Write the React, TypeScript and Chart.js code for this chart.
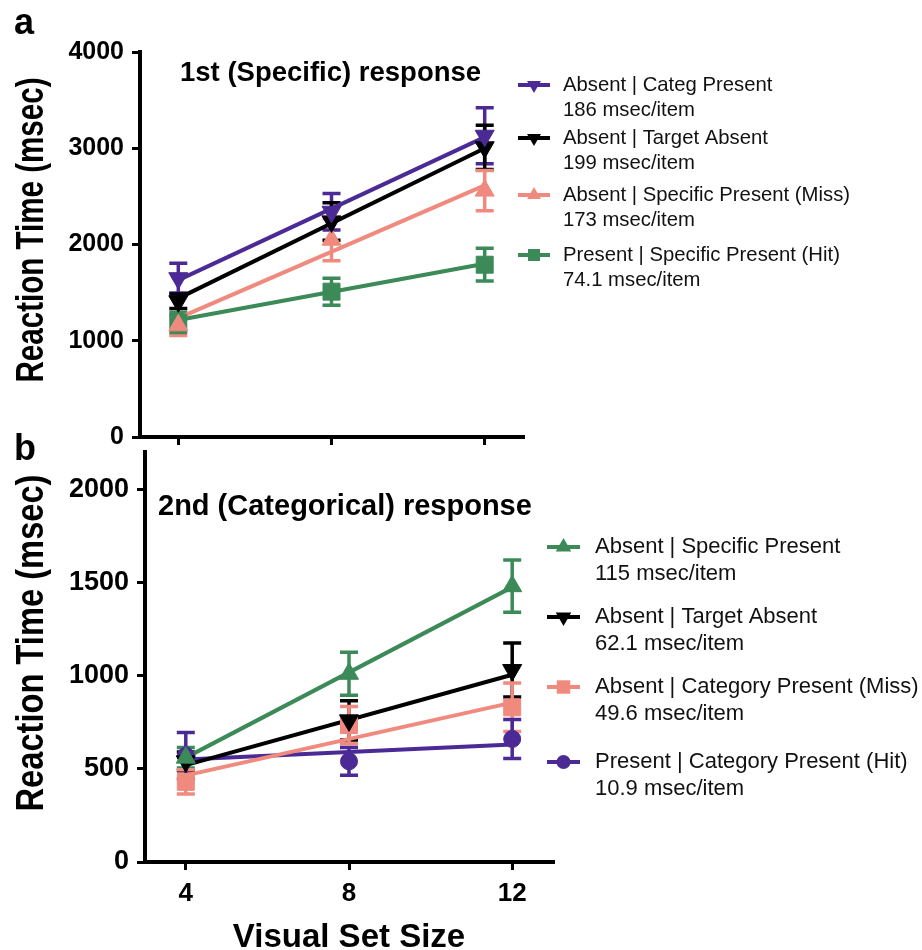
import React, { useEffect, useRef } from 'react';
import { Chart, registerables } from 'chart.js';

Chart.register(...registerables);

// ---------- data ----------
const SET_SIZES = [4, 8, 12];
const FIT_X = [4, 12];
const A_Y_TICKS = [0, 1000, 2000, 3000, 4000];
const B_Y_TICKS = [0, 500, 1000, 1500, 2000];

// Panel a: 1st (Specific) response
const A_NAMES = [
  'Absent | Categ Present',
  'Absent | Target Absent',
  'Absent | Specific Present (Miss)',
  'Present | Specific Present (Hit)',
];
const A_SLOPES = ['186 msec/item', '199 msec/item', '173 msec/item', '74.1 msec/item'];
const A_CATEG_MEAN = [1650, 2340, 3130];
const A_CATEG_ERR = [155, 190, 290];
const A_CATEG_FIT = [1630, 3115];
const A_TABSENT_MEAN = [1410, 2240, 3010];
const A_TABSENT_ERR = [75, 195, 230];
const A_TABSENT_FIT = [1440, 3000];
const A_MISS_MEAN = [1160, 2050, 2560];
const A_MISS_ERR = [105, 220, 210];
const A_MISS_FIT = [1235, 2615];
const A_HIT_MEAN = [1190, 1510, 1790];
const A_HIT_ERR = [105, 140, 170];
const A_HIT_FIT = [1215, 1800];

// Panel b: 2nd (Categorical) response
const B_NAMES = [
  'Absent | Specific Present',
  'Absent | Target Absent',
  'Absent | Category Present (Miss)',
  'Present | Category Present (Hit)',
];
const B_SLOPES = ['115 msec/item', '62.1 msec/item', '49.6 msec/item', '10.9 msec/item'];
const B_SPEC_MEAN = [560, 1010, 1480];
const B_SPEC_ERR = [55, 115, 140];
const B_SPEC_FIT = [560, 1475];
const B_TABSENT_MEAN = [540, 760, 1030];
const B_TABSENT_ERR = [50, 105, 145];
const B_TABSENT_FIT = [520, 1005];
const B_MISS_MEAN = [430, 735, 830];
const B_MISS_ERR = [65, 100, 130];
const B_MISS_FIT = [465, 855];
const B_HIT_MEAN = [570, 540, 660];
const B_HIT_ERR = [125, 75, 105];
const B_HIT_FIT = [550, 630];

// ---------- styles ----------
const PURPLE = '#4b2a96';
const BLACK = '#000000';
const SALMON = '#f08a7e';
const GREEN = '#3b8a58';
const FONT = '"Liberation Sans", Arial, Helvetica, sans-serif';
const W = 922;

type Series = {
  name: string;
  slope: string;
  mean: number[];
  err: number[];
  fit: number[];
  color: string;
  style: string;
  rotation: number;
  radius: number;
  legendRadius: number;
};

type Panel = {
  top: number;
  height: number;
  area: { left: number; right: number; top: number; bottom: number };
  yMax: number;
  yTicks: number[];
  yTickSize: number;
  showXLabels: boolean;
  series: Series[];
  letter: string;
  letterPos: [number, number, number];
  title: string;
  titlePos: [number, number, number];
  yTitle: { x: number; cy: number; len: number };
  legend: { x0: number; x1: number; tx: number; ys: number[]; gap: number; size: number };
  xTitle?: { cx: number; y: number; size: number };
};

const mk = (
  name: string, slope: string, mean: number[], err: number[], fit: number[],
  color: string, style: string, rotation: number, radius: number, legendRadius: number
): Series => ({ name, slope, mean, err, fit, color, style, rotation, radius, legendRadius });

const PANEL_A: Panel = {
  top: 0,
  height: 480,
  area: { left: 140, right: 523, top: 52, bottom: 437 },
  yMax: 4000,
  yTicks: A_Y_TICKS,
  yTickSize: 25,
  showXLabels: false,
  series: [
    mk(A_NAMES[0], A_SLOPES[0], A_CATEG_MEAN, A_CATEG_ERR, A_CATEG_FIT, PURPLE, 'triangle', 180, 11, 8),
    mk(A_NAMES[1], A_SLOPES[1], A_TABSENT_MEAN, A_TABSENT_ERR, A_TABSENT_FIT, BLACK, 'triangle', 180, 11, 8),
    mk(A_NAMES[2], A_SLOPES[2], A_MISS_MEAN, A_MISS_ERR, A_MISS_FIT, SALMON, 'triangle', 0, 11, 8),
    mk(A_NAMES[3], A_SLOPES[3], A_HIT_MEAN, A_HIT_ERR, A_HIT_FIT, GREEN, 'rect', 0, 12, 8.5),
  ],
  letter: 'a',
  letterPos: [14, 34, 36],
  title: '1st (Specific) response',
  titlePos: [180, 73, 27.5],
  yTitle: { x: 43, cy: 230, len: 305 },
  legend: { x0: 518, x1: 550, tx: 563, ys: [85, 138, 195, 255], gap: 25, size: 20.3 },
};

const PANEL_B: Panel = {
  top: 420,
  height: 530,
  area: { left: 145, right: 553, top: 32, bottom: 442 },
  yMax: 2200,
  yTicks: B_Y_TICKS,
  yTickSize: 27,
  showXLabels: true,
  series: [
    mk(B_NAMES[0], B_SLOPES[0], B_SPEC_MEAN, B_SPEC_ERR, B_SPEC_FIT, GREEN, 'triangle', 0, 11, 9),
    mk(B_NAMES[1], B_SLOPES[1], B_TABSENT_MEAN, B_TABSENT_ERR, B_TABSENT_FIT, BLACK, 'triangle', 180, 11, 9),
    mk(B_NAMES[2], B_SLOPES[2], B_MISS_MEAN, B_MISS_ERR, B_MISS_FIT, SALMON, 'rect', 0, 12, 9.5),
    mk(B_NAMES[3], B_SLOPES[3], B_HIT_MEAN, B_HIT_ERR, B_HIT_FIT, PURPLE, 'circle', 0, 8.5, 7),
  ],
  letter: 'b',
  letterPos: [14, 460, 36],
  title: '2nd (Categorical) response',
  titlePos: [158, 507, 29],
  yTitle: { x: 43, cy: 643, len: 337 },
  legend: { x0: 547, x1: 580, tx: 595, ys: [547, 617, 687, 762], gap: 27, size: 22 },
  xTitle: { cx: 349, y: 947, size: 33 },
};

function drawMarker(ctx: CanvasRenderingContext2D, style: string, rotation: number, r: number, x: number, y: number) {
  ctx.beginPath();
  if (style === 'triangle') {
    let rad = (rotation * Math.PI) / 180;
    ctx.moveTo(x + Math.sin(rad) * r, y - Math.cos(rad) * r);
    rad += (2 * Math.PI) / 3;
    ctx.lineTo(x + Math.sin(rad) * r, y - Math.cos(rad) * r);
    rad += (2 * Math.PI) / 3;
    ctx.lineTo(x + Math.sin(rad) * r, y - Math.cos(rad) * r);
    ctx.closePath();
  } else if (style === 'rect') {
    const s = r * Math.SQRT1_2;
    ctx.rect(x - s, y - s, 2 * s, 2 * s);
  } else {
    ctx.arc(x, y, r, 0, Math.PI * 2);
  }
  ctx.fill();
}

function makePlugin(p: Panel) {
  const off = p.top;
  return {
    id: 'overlay' + p.letter,
    beforeDatasetsDraw(chart: any) {
      const ctx = chart.ctx as CanvasRenderingContext2D;
      const xs = chart.scales.x;
      const ys = chart.scales.y;
      ctx.save();
      ctx.lineWidth = 3.5;
      ctx.lineCap = 'butt';
      p.series.forEach((s) => {
        ctx.strokeStyle = s.color;
        SET_SIZES.forEach((xv, i) => {
          const x = xs.getPixelForValue(xv);
          const y1 = ys.getPixelForValue(s.mean[i] + s.err[i]);
          const y2 = ys.getPixelForValue(s.mean[i] - s.err[i]);
          ctx.beginPath();
          ctx.moveTo(x, y1);
          ctx.lineTo(x, y2);
          ctx.moveTo(x - 9, y1);
          ctx.lineTo(x + 9, y1);
          ctx.moveTo(x - 9, y2);
          ctx.lineTo(x + 9, y2);
          ctx.stroke();
        });
      });
      ctx.restore();
    },
    afterDraw(chart: any) {
      const ctx = chart.ctx as CanvasRenderingContext2D;
      ctx.save();
      ctx.fillStyle = '#000';
      // panel letter
      ctx.font = `bold ${p.letterPos[2]}px ${FONT}`;
      ctx.textAlign = 'left';
      ctx.textBaseline = 'alphabetic';
      ctx.fillText(p.letter, p.letterPos[0], p.letterPos[1] - off);
      // panel title
      ctx.font = `bold ${p.titlePos[2]}px ${FONT}`;
      ctx.textBaseline = 'middle';
      ctx.fillText(p.title, p.titlePos[0], p.titlePos[1] - off);
      // y title (condensed)
      ctx.save();
      ctx.translate(p.yTitle.x, p.yTitle.cy - off);
      ctx.rotate(-Math.PI / 2);
      ctx.font = `bold 38px ${FONT}`;
      const txt = 'Reaction Time (msec)';
      const tw = ctx.measureText(txt).width;
      ctx.scale(p.yTitle.len / tw, 1);
      ctx.textAlign = 'center';
      ctx.textBaseline = 'alphabetic';
      ctx.fillText(txt, 0, 0);
      ctx.restore();
      // x title
      if (p.xTitle) {
        ctx.font = `bold ${p.xTitle.size}px ${FONT}`;
        ctx.textAlign = 'center';
        ctx.textBaseline = 'alphabetic';
        ctx.fillText('Visual Set Size', p.xTitle.cx, p.xTitle.y - off);
      }
      // legend
      const L = p.legend;
      p.series.forEach((s, i) => {
        const y = L.ys[i] - off;
        ctx.strokeStyle = s.color;
        ctx.fillStyle = s.color;
        ctx.lineWidth = 4;
        ctx.beginPath();
        ctx.moveTo(L.x0, y);
        ctx.lineTo(L.x1, y);
        ctx.stroke();
        drawMarker(ctx, s.style, s.rotation, s.legendRadius, (L.x0 + L.x1) / 2, y);
        ctx.fillStyle = '#111';
        ctx.font = `${L.size}px ${FONT}`;
        ctx.textAlign = 'left';
        ctx.textBaseline = 'middle';
        ctx.fillText(s.name, L.tx, y);
        ctx.fillText(s.slope, L.tx, y + L.gap);
      });
      ctx.restore();
    },
  };
}

function buildConfig(p: Panel): any {
  const datasets: any[] = [];
  p.series.forEach((s) => {
    datasets.push({
      label: s.name,
      data: SET_SIZES.map((x, i) => ({ x, y: s.mean[i] })),
      showLine: false,
      pointStyle: s.style,
      pointRotation: s.rotation,
      pointRadius: s.radius,
      pointBackgroundColor: s.color,
      pointBorderColor: s.color,
      pointBorderWidth: 1,
    });
  });
  p.series.forEach((s) => {
    datasets.push({
      label: s.name + ' fit',
      data: FIT_X.map((x, i) => ({ x, y: s.fit[i] })),
      showLine: true,
      pointRadius: 0,
      borderColor: s.color,
      borderWidth: 4,
    });
  });
  const a = p.area;
  return {
    type: 'scatter',
    data: { datasets },
    options: {
      responsive: false,
      animation: false,
      layout: { padding: { left: 0, top: a.top, right: W - a.right, bottom: 0 } },
      plugins: { legend: { display: false }, tooltip: { enabled: false } },
      scales: {
        x: {
          type: 'linear',
          min: 3,
          max: 13,
          afterBuildTicks: (s: any) => {
            s.ticks = SET_SIZES.map((v) => ({ value: v }));
          },
          afterFit: (s: any) => {
            s.height = p.height - a.bottom;
          },
          grid: { drawOnChartArea: false, drawTicks: true, tickLength: 8, lineWidth: 3, color: '#000' },
          border: { display: true, color: '#000', width: 4 },
          ticks: {
            display: p.showXLabels,
            color: '#000',
            padding: 8,
            maxRotation: 0,
            autoSkip: false,
            font: { family: FONT, weight: 'bold', size: 26 },
            callback: (v: any) => String(v),
          },
        },
        y: {
          type: 'linear',
          min: 0,
          max: p.yMax,
          afterBuildTicks: (s: any) => {
            s.ticks = p.yTicks.map((v) => ({ value: v }));
          },
          afterFit: (s: any) => {
            s.width = a.left;
          },
          grid: { drawOnChartArea: false, drawTicks: true, tickLength: 8, lineWidth: 3, color: '#000' },
          border: { display: true, color: '#000', width: 4 },
          ticks: {
            color: '#000',
            padding: 8,
            autoSkip: false,
            font: { family: FONT, weight: 'bold', size: p.yTickSize },
            callback: (v: any) => String(v),
          },
        },
      },
    },
    plugins: [makePlugin(p)],
  };
}

function PanelChart({ panel }: { panel: Panel }) {
  const ref = useRef<HTMLCanvasElement | null>(null);
  useEffect(() => {
    if (!ref.current) return;
    const chart = new Chart(ref.current, buildConfig(panel));
    return () => chart.destroy();
  }, [panel]);
  return (
    <canvas
      ref={ref}
      width={W}
      height={panel.height}
      style={{ position: 'absolute', left: 0, top: panel.top, width: W, height: panel.height }}
    />
  );
}

export default function App() {
  return (
    <div style={{ position: 'absolute', left: 0, top: 0, width: W, height: 950, background: '#fff', overflow: 'hidden' }}>
      <PanelChart panel={PANEL_A} />
      <PanelChart panel={PANEL_B} />
    </div>
  );
}
